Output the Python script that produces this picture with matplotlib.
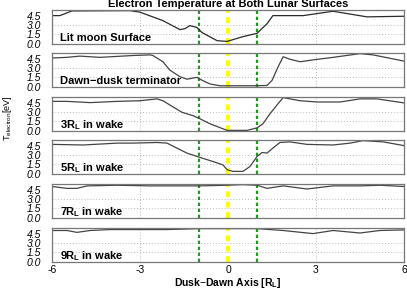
import numpy as np
import matplotlib
matplotlib.use("Agg")
import matplotlib.pyplot as plt

plt.rcParams['font.family'] = ['Liberation Sans', 'DejaVu Sans']
plt.rcParams['mathtext.fontset'] = 'custom'
plt.rcParams['mathtext.rm'] = 'Liberation Sans'
plt.rcParams['mathtext.bf'] = 'Liberation Sans:bold'

# panel labels
labels = ["Lit moon Surface", "Dawn\u2212dusk terminator",
          r"3R$_\mathbf{L}$ in wake", r"5R$_\mathbf{L}$ in wake",
          r"7R$_\mathbf{L}$ in wake", r"9R$_\mathbf{L}$ in wake"]

# curves (x in R_L, T in eV)
x1 = [-6.0, -5.73, -5.32, -3.34, -3.0, -2.22, -1.64, -1.47, -1.3, -1.06, -0.89, -0.37, -0.03, 0.51, 0.99, 1.33, 1.53, 1.77, 2.56, 3.58, 4.74, 6.0]
t1 = [4.5, 4.5, 5.25, 5.3, 5.05, 3.7, 2.26, 2.4, 2.9, 2.6, 1.8, 0.48, 0.37, 1.13, 1.66, 3.2, 4.5, 4.5, 4.5, 5.2, 4.3, 4.4]

x2 = [-6.0, -5.5, -5.05, -4.36, -3.24, -2.66, -2.56, -2.22, -1.98, -1.64, -1.40, -1.06, -0.89, -0.61, -0.27, 0.99, 1.33, 1.50, 1.71, 1.88, 2.11, 2.46, 2.90, 3.58, 4.50, 4.94, 6.0]
t2 = [4.6, 4.7, 4.9, 4.7, 5.0, 5.1, 5.0, 4.0, 2.65, 1.6, 1.2, 1.5, 1.05, 0.43, 0.15, 0.15, 0.2, 1.0, 3.2, 4.8, 4.4, 4.0, 4.3, 4.7, 5.3, 5.1, 4.1]

x3 = [-6.0, -5.49, -4.70, -3.78, -3.0, -2.42, -2.22, -1.87, -1.57, -1.19, -0.95, -0.61, -0.17, -0.03, 0.65, 0.99, 1.19, 1.43, 1.71, 1.88, 2.46, 3.04, 3.82, 4.50, 5.08, 6.0]
t3 = [4.7, 4.7, 4.5, 4.7, 4.8, 5.1, 4.8, 3.8, 2.95, 2.4, 1.9, 1.1, 0.3, 0.05, 0.05, 0.45, 1.1, 2.7, 4.35, 5.3, 4.8, 4.6, 4.6, 5.1, 5.1, 4.45]

x4 = [-6.0, -4.94, -3.78, -3.24, -2.42, -2.08, -1.74, -1.40, -0.95, -0.51, -0.17, -0.03, 0.17, 0.51, 0.75, 0.99, 1.16, 1.33, 1.53, 1.77, 2.11, 2.69, 3.58, 4.16, 4.60, 5.29, 6.0]
t4 = [4.7, 4.6, 4.9, 4.9, 5.0, 4.9, 4.1, 3.3, 2.6, 1.95, 1.4, 0.63, 0.37, 0.37, 1.16, 2.75, 3.4, 3.3, 4.1, 5.0, 5.1, 4.7, 4.6, 4.9, 5.3, 5.1, 4.5]

x5 = [-6.0, -5.49, -5.15, -4.8, -3.78, -2.66, -0.95, -0.03, 0.51, 0.99, 1.33, 1.88, 2.69, 3.58, 4.50, 5.18, 6.0]
t5 = [5.0, 4.7, 4.7, 5.1, 5.2, 5.1, 5.1, 5.2, 5.3, 5.2, 4.7, 5.1, 4.6, 5.1, 5.1, 5.2, 5.0]

x6 = [-6.0, -5.49, -5.15, -4.70, -4.02, -3.24, -2.08, -0.95, 0.17, 0.99, 1.88, 2.90, 3.58, 4.50, 5.18, 6.0]
t6 = [5.0, 5.0, 4.7, 5.0, 5.15, 5.15, 5.15, 5.3, 5.3, 5.3, 5.0, 4.5, 5.0, 4.6, 5.0, 5.1]

xs = [x1, x2, x3, x4, x5, x6]
ts = [t1, t2, t3, t4, t5, t6]

yticks = [0.0, 1.5, 3.0, 4.5]
xticks = [-6, -3, 0, 3, 6]
terminators = [-1, 1]

W, H = 407, 289
fig = plt.figure(figsize=(W / 100, H / 100), dpi=100)

left, right = 52, 404
tops = [10, 53, 97, 140, 184, 228]
ph = 34

for i in range(6):
    ax = fig.add_axes([left / W, 1 - (tops[i] + ph) / H, (right - left) / W, ph / H])
    for g in [-3, 3]:
        ax.axvline(g, color='#bbbbbb', lw=0.7, ls=(0, (1, 2)))
    for g in [1.5, 3.0]:
        ax.axhline(g, color='#bbbbbb', lw=0.7, ls=(0, (1, 2)))
    for v in terminators:
        ax.axvline(v, color='#1f9a1f', lw=1.6, ls=(0, (1.5, 1.2)))
    ax.axvline(0, color='#ffff00', lw=3.0, ls=(0, (1.4, 1.1)))
    ax.plot(xs[i], ts[i], color='#2a2a2a' if i == 0 else '#444444', lw=0.9)
    ax.set_xlim(-6, 6)
    ax.set_ylim(-0.05, 5.4)
    ax.set_yticks(yticks)
    ax.set_yticklabels(["%.1f" % v for v in yticks], fontstyle='italic', fontsize=7.5)
    ax.tick_params(axis='y', length=0, pad=8)
    ax.set_xticks(xticks)
    if i < 5:
        ax.tick_params(axis='x', length=0, labelbottom=False)
    else:
        ax.set_xticklabels([str(v) for v in xticks], fontsize=7.5)
        ax.tick_params(axis='x', length=0, pad=2)
    for s in ax.spines.values():
        s.set_color('#777777')
        s.set_linewidth(0.9)
    ax.text(0.022, 0.17, labels[i], transform=ax.transAxes, fontsize=8,
            fontweight='bold', ha='left', va='center')

fig.text(228 / W, 1 - 4 / H, "Electron Temperature at Both Lunar Surfaces",
         ha='center', va='center', fontsize=8, fontweight='bold')
fig.text(228 / W, 1 - 282.5 / H, r"Dusk$-$Dawn Axis [R$_\mathbf{L}$]",
         ha='center', va='center', fontsize=7.5, fontweight='bold')
fig.text(8 / W, 1 - 118 / H, r"T$_{\mathregular{electron}}$[eV]",
         ha='center', va='center', rotation=90, fontsize=6.5)

fig.savefig("out.png", dpi=100)
